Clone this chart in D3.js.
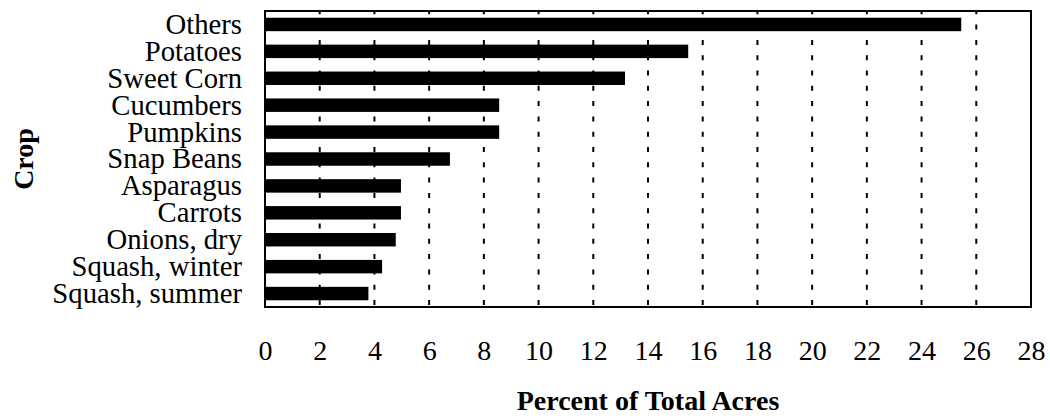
<!DOCTYPE html>
<html>
<head>
<meta charset="utf-8">
<script src="https://cdn.jsdelivr.net/npm/d3@7"></script>
<style>
  html, body { margin: 0; padding: 0; background: #fff; }
  svg { display: block; }
  text { font-family: "Liberation Serif", "Times New Roman", serif; fill: #000; }
</style>
</head>
<body>
<svg id="chart" width="1050" height="418"></svg>
<script>
const crops = ["Others", "Potatoes", "Sweet Corn", "Cucumbers", "Pumpkins", "Snap Beans",
               "Asparagus", "Carrots", "Onions, dry", "Squash, winter", "Squash, summer"];
const percents = [25.45, 15.47, 13.16, 8.56, 8.56, 6.76, 4.97, 4.97, 4.78, 4.28, 3.78];
const xTicks = [0, 2, 4, 6, 8, 10, 12, 14, 16, 18, 20, 22, 24, 26, 28];
const xTitle = "Percent of Total Acres";
const yTitle = "Crop";

const svg = d3.select("#chart");
const m = { left: 265, right: 1031, top: 11, bottom: 307 };

const x = d3.scaleLinear().domain([0, 28]).range([m.left, m.right]);
const y = d3.scaleBand().domain(crops).range([m.top, m.bottom]).paddingInner(0.5).paddingOuter(0.25);

// gridlines
svg.append("g").selectAll("line")
  .data(xTicks.filter(t => t > 0 && t < 28))
  .join("line")
  .attr("x1", d => x(d)).attr("x2", d => x(d))
  .attr("y1", m.bottom).attr("y2", m.top)
  .attr("stroke", "#000").attr("stroke-width", 2)
  .attr("stroke-dasharray", "5,10.3")
  .attr("stroke-dashoffset", 13.3);

// bars
svg.append("g").selectAll("rect")
  .data(crops.map((c, i) => ({ c, v: percents[i] })))
  .join("rect")
  .attr("x", x(0))
  .attr("y", d => y(d.c))
  .attr("width", d => x(d.v) - x(0))
  .attr("height", y.bandwidth())
  .attr("fill", "#000");

// frame
svg.append("rect")
  .attr("x", m.left).attr("y", m.top)
  .attr("width", m.right - m.left).attr("height", m.bottom - m.top)
  .attr("fill", "none").attr("stroke", "#000").attr("stroke-width", 2);

// x axis labels
const xAxis = d3.axisBottom(x).tickValues(xTicks).tickSize(0).tickPadding(0);
const gx = svg.append("g").attr("transform", `translate(0,${m.bottom})`).call(xAxis);
gx.select(".domain").remove();
gx.selectAll("text")
  .attr("font-family", '"Liberation Serif", serif')
  .attr("font-size", 28)
  .attr("dy", null)
  .attr("y", 53)
  .attr("fill", "#000");

// y axis labels
const yAxis = d3.axisLeft(y).tickSize(0).tickPadding(23);
const gy = svg.append("g").attr("transform", `translate(${m.left},0)`).call(yAxis);
gy.select(".domain").remove();
gy.selectAll("text")
  .attr("font-family", '"Liberation Serif", serif')
  .attr("font-size", 28.7)
  .attr("dy", "0.33em")
  .attr("fill", "#000");

// titles
svg.append("text")
  .attr("x", 648).attr("y", 410)
  .attr("text-anchor", "middle")
  .attr("font-size", 28).attr("font-weight", "bold")
  .text(xTitle);

svg.append("text")
  .attr("transform", "translate(33,159) rotate(-90)")
  .attr("text-anchor", "middle")
  .attr("font-size", 28).attr("font-weight", "bold")
  .text(yTitle);
</script>
</body>
</html>
